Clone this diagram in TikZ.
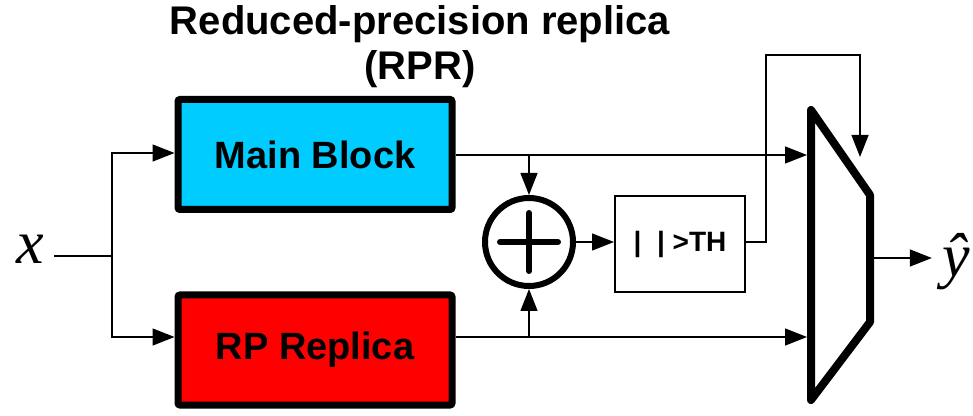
\documentclass[tikz,border=0pt]{standalone}
\usepackage{fontspec}
\setsansfont{Liberation Sans}
\newfontfamily\serifit{Liberation Serif}
\usetikzlibrary{arrows.meta}
\definecolor{blockblue}{HTML}{00CCFF}

\begin{document}
\begin{tikzpicture}[x=0.5pt,y=-0.5pt,
    block/.style={draw=black,line width=3.5pt,rounded corners=1pt,minimum width=137pt,minimum height=55pt,inner sep=0pt,font=\sffamily\bfseries\fontsize{19}{19}\selectfont},
    wire/.style={line width=0.7pt},
    arr/.style={wire,-{Triangle[length=11pt,width=8.5pt]}},
    sig/.style={inner sep=5pt,font=\serifit\itshape\fontsize{31}{31}\selectfont}]
  \useasboundingbox (0,0) rectangle (973,416);
  \node[align=center,font=\sffamily\bfseries\fontsize{20}{22.5}\selectfont] (title) at (420,47) {Reduced-precision replica\\(RPR)};
  \node[block,fill=blockblue] (main) at (315,154.5) {Main Block};
  \node[block,fill=red] (rpr) at (315,350) {RP Replica};
  \node[sig] (xin) at (30,249) {x};
  \node[sig] (yhat) at (956,262) {ŷ};
  \node[draw,circle,line width=3pt,minimum size=44pt,inner sep=0pt] (add) at (529,242) {};
  \node[draw,line width=1pt,minimum width=65pt,minimum height=48pt,font=\sffamily\bfseries\fontsize{14}{14}\selectfont] (th) at (680,244) {|\ \ | >TH};
  \coordinate (m1) at (811,110);
  \coordinate (m2) at (870,195);
  \coordinate (m3) at (870,322);
  \coordinate (m4) at (811,400);
  \coordinate (split) at (112,256);
  \coordinate (hi) at (112,153);
  \coordinate (lo) at (112,337);
  \coordinate (mtap) at (529,155);
  \coordinate (rtap) at (529,337);
  \coordinate (c1) at (766,55);
  \coordinate (ctl) at (860,157);
  \coordinate (mout) at (872,258);
  \draw[line width=3pt,line cap=round] ([xshift=-14.5pt]add.center) -- ([xshift=14.5pt]add.center);
  \draw[line width=3pt,line cap=round] ([yshift=-14.5pt]add.center) -- ([yshift=14.5pt]add.center);
  \draw[wire] (xin.east |- split) -- (split);
  \draw[arr] (split) -- (hi) -- (hi -| main.west);
  \draw[arr] (split) -- (lo) -- (lo -| rpr.west);
  \draw[arr] (main.east |- mtap) -- ([xshift=-2pt]m1 |- mtap);
  \draw[arr] (rpr.east |- rtap) -- ([xshift=-2pt]m1 |- rtap);
  \draw[arr] (mtap) -- (add.north);
  \draw[arr] (rtap) -- (add.south);
  \draw[arr] (add.east) -- (add.east -| th.west);
  \draw[arr] (th.east |- add) -| (c1) -| (ctl);
  \draw[arr] (mout) -- (yhat.west |- mout);
  \draw[line width=4pt,line join=round,fill=white] (m1) -- (m2) -- (m3) -- (m4) -- cycle;
\end{tikzpicture}
\end{document}
